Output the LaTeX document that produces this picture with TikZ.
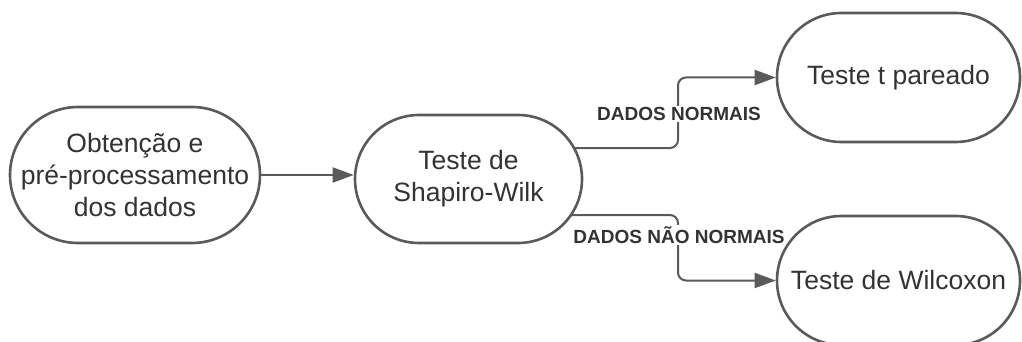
\documentclass[tikz,border=0pt]{standalone}
\usepackage{fontspec}
\setmainfont{Liberation Sans}
\usetikzlibrary{arrows.meta,calc,backgrounds}
\definecolor{linegray}{HTML}{5A5A5A}
\definecolor{textgray}{HTML}{333333}
\begin{document}
\begin{tikzpicture}[x=1pt,y=-1pt,
  term/.style={draw=linegray, line width=2.6pt, fill=white, text=textgray,
    align=center, inner sep=0pt, font=\fontsize{26.5}{32}\selectfont},
  conn/.style={draw=linegray, line width=2pt,
    -{Triangle[length=21pt,width=15pt]}},
  lbl/.style={fill=white, text=textgray, inner sep=1.5pt,
    font=\bfseries\fontsize{19}{22}\selectfont}]
\useasboundingbox (0,0) rectangle (1022,342);
\node[term, minimum width=250pt, minimum height=136pt, rounded corners=68pt] (n1) at (135,175)
  {Obtenção e\\pré-processamento\\dos dados};
\node[term, minimum width=227pt, minimum height=128pt, rounded corners=64pt] (n2) at (468.5,179)
  {Teste de\\Shapiro-Wilk};
\node[term, minimum width=243pt, minimum height=129pt, rounded corners=64.5pt] (n3) at (898.5,77.5)
  {Teste t pareado};
\node[term, minimum width=243pt, minimum height=129pt, rounded corners=64.5pt] (n4) at (898.5,280.5)
  {Teste de Wilcoxon};
\coordinate (m) at (678,0);
\coordinate (s1) at ($(n2.center)+(60,-31)$);
\coordinate (s2) at ($(n2.center)+(60,36)$);
\begin{pgfonlayer}{background}
\draw[conn] (n1.east) -- (n1.east -| n2.west);
\draw[conn, rounded corners=8pt] (s1) -- (s1 -| m) -- (m |- n3.west) -- (n3.west);
\draw[conn, rounded corners=8pt] (s2) -- (s2 -| m) -- (m |- n4.west) -- (n4.west);
\end{pgfonlayer}
\node[lbl] (l1) at (679,114) {DADOS NORMAIS};
\node[lbl] (l2) at (679,235) {DADOS NÃO NORMAIS};
\end{tikzpicture}
\end{document}
